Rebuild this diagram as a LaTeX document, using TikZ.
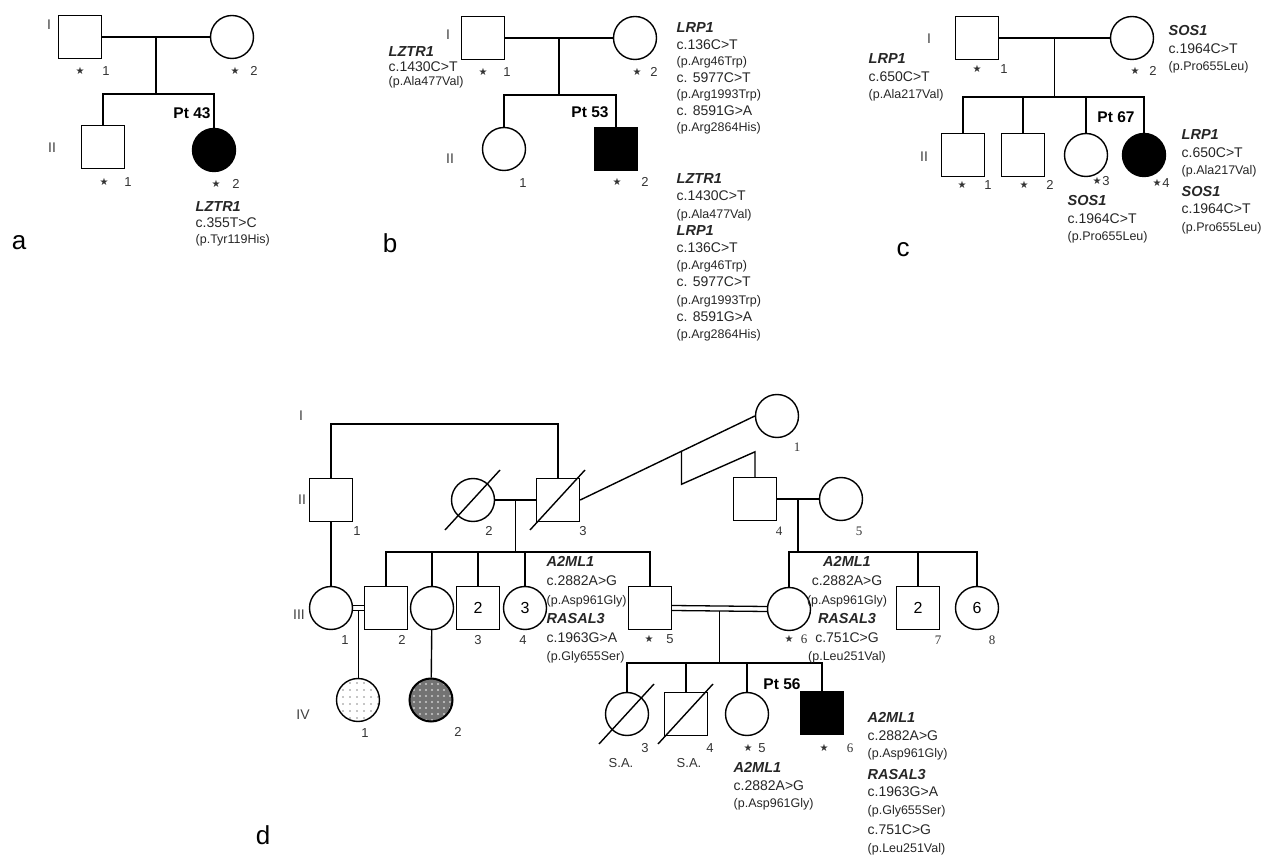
\documentclass[tikz,border=0pt]{standalone}
\usepackage{fontspec}
\setmainfont{Liberation Sans}
\newfontfamily\numserif{Liberation Serif}
\newfontfamily\symfont{DejaVu Sans}
\usetikzlibrary{positioning,calc,patterns.meta}

\newcommand{\gn}[1]{{\fontsize{14.5}{\baselineskip}\selectfont\textbf{\textit{#1}}}}
\newcommand{\pv}[1]{{\fontsize{12.5}{\baselineskip}\selectfont #1}}
\newcommand{\st}{{\symfont\fontsize{10}{10}\selectfont ★}}
% star + individual number under a symbol
\newcommand{\tagid}[5]{%
  \node[idno] (#1s) at (#2,#4) {\st};
  \node[idno] (#1n) at (#3,#4) {#5};}
% deceased / aborted slash
\newcommand{\deadmark}[1]{%
  \draw ([shift={(-28pt,-30pt)}]#1.center) -- ([shift={(27pt,30pt)}]#1.center);}
% consanguineous union
\newcommand{\consang}[2]{%
  \draw ([yshift=2.5pt]#1.east) -- ([yshift=2.5pt]#2.west);
  \draw ([yshift=-2.5pt]#1.east) -- ([yshift=-2.5pt]#2.west);}

\tikzset{
  male/.style={draw,rectangle,minimum size=43pt,inner sep=0pt,font=\fontsize{16}{18}\selectfont},
  female/.style={draw,circle,minimum size=43pt,inner sep=0pt,font=\fontsize{16}{18}\selectfont},
  affected/.style={fill=black},
  gen/.style={font=\fontsize{14}{16}\selectfont,text=black!75,inner sep=0pt},
  idno/.style={font=\fontsize{13}{15}\selectfont,text=black!80,inner sep=0pt},
  sidno/.style={idno,font=\numserif\fontsize{13}{15}\selectfont},
  ptlabel/.style={font=\bfseries\fontsize{15.5}{17}\selectfont,inner sep=0pt},
  varblk/.style={anchor=north west,align=left,inner sep=0pt,
    font=\fontsize{14}{17.5}\selectfont,text=black!85},
  panel/.style={font=\fontsize{26}{28}\selectfont,inner sep=0pt}
}

\begin{document}
\begin{tikzpicture}[x=1pt,y=-1pt,line width=1.4pt]
  \useasboundingbox (0,0) rectangle (1270,858);

  % ---------- a ----------
  \node[panel] (pa) at (19,243) {a};
  \node[gen] (gaI) at (49,25) {I};
  \node[gen] (gaII) at (52,148) {II};
  \node[male] (a11) at (80,37) {};
  \node[female] (a12) at (232,37) {};
  \node[male] (a21) at (103,147) {};
  \node[female,affected] (a22) at (214,150) {};
  \draw (a11) -- (a12);
  \coordinate (a1m) at ($(a11)!0.5!(a12)$);
  \coordinate (a1s) at ($(a1m)+(0,57)$);
  \draw (a1m) -- (a1s);
  \draw (a21.north) |- (a1s) -| (a22.north);
  \tagid{a11}{80}{106}{71}{1}
  \tagid{a12}{235}{254}{71}{2}
  \tagid{a21}{104}{128}{182}{1}
  \tagid{a22}{216}{236}{184}{2}
  \node[ptlabel] (pt43) at (192,113) {Pt 43};
  \node[varblk,font=\fontsize{14}{16}\selectfont] (avar) at (195,201)
    {\gn{LZTR1}\\c.355T>C\\\pv{(p.Tyr119His)}};

  % ---------- b ----------
  \node[panel] (pb) at (390,243) {b};
  \node[gen] (gbI) at (448,35) {I};
  \node[gen] (gbII) at (450,159) {II};
  \node[male] (b11) at (483,38) {};
  \node[female] (b12) at (635,38) {};
  \node[female] (b21) at (504,149) {};
  \node[male,affected] (b22) at (616,149) {};
  \draw (b11) -- (b12);
  \coordinate (b1m) at ($(b11)!0.5!(b12)$);
  \coordinate (b1s) at ($(b1m)+(0,57)$);
  \draw (b1m) -- (b1s);
  \draw (b21.north) |- (b1s) -| (b22.north);
  \tagid{b11}{483}{507}{72}{1}
  \tagid{b12}{637}{654}{72}{2}
  \node[idno] (b21n) at (523,183) {1};
  \tagid{b22}{617}{645}{182}{2}
  \node[ptlabel] (pt53) at (590,112) {Pt 53};
  \node[varblk,font=\fontsize{14}{14.5}\selectfont] (bvar1) at (388,46)
    {\gn{LZTR1}\\c.1430C>T\\\pv{(p.Ala477Val)}};
  \node[varblk,font=\fontsize{14}{16.5}\selectfont] (bvar2) at (676,22)
    {\gn{LRP1}\\c.136C>T\\\pv{(p.Arg46Trp)}\\c. 5977C>T\\\pv{(p.Arg1993Trp)}\\c. 8591G>A\\\pv{(p.Arg2864His)}};
  \node[varblk,font=\fontsize{14}{17.2}\selectfont] (bvar3) at (676,173)
    {\gn{LZTR1}\\c.1430C>T\\\pv{(p.Ala477Val)}\\\gn{LRP1}\\c.136C>T\\\pv{(p.Arg46Trp)}\\c. 5977C>T\\\pv{(p.Arg1993Trp)}\\c. 8591G>A\\\pv{(p.Arg2864His)}};

  % ---------- c ----------
  \node[panel] (pc) at (903,250) {c};
  \node[gen] (gcI) at (929,39) {I};
  \node[gen] (gcII) at (924,157) {II};
  \node[male] (c11) at (977,38) {};
  \node[female] (c12) at (1132,38) {};
  \node[male] (c21) at (963,155) {};
  \node[male] (c22) at (1023,155) {};
  \node[female] (c23) at (1086,155) {};
  \node[female,affected] (c24) at (1144,155) {};
  \draw (c11) -- (c12);
  \coordinate (c1m) at ($(c11)!0.5!(c12)$);
  \coordinate (c1s) at ($(c1m)+(0,59)$);
  \draw (c1m) -- (c1s);
  \draw (c21.north) |- (c1s) -| (c24.north);
  \foreach \k in {c22,c23} \draw (\k.north) -- (\k.north |- c1s);
  \tagid{c11}{977}{1004}{69}{1}
  \tagid{c12}{1135}{1153}{71}{2}
  \tagid{c21}{962}{988}{185}{1}
  \tagid{c22}{1024}{1050}{185}{2}
  \tagid{c23}{1097}{1106}{181}{3}
  \tagid{c24}{1157}{1166}{183}{4}
  \node[ptlabel] (pt67) at (1116,117) {Pt 67};
  \node[varblk] (cvar1) at (868,53) {\gn{LRP1}\\c.650C>T\\\pv{(p.Ala217Val)}};
  \node[varblk] (cvar2) at (1168,25) {\gn{SOS1}\\c.1964C>T\\\pv{(p.Pro655Leu)}};
  \node[varblk] (cvar3) at (1067,195) {\gn{SOS1}\\c.1964C>T\\\pv{(p.Pro655Leu)}};
  \node[varblk] (cvar4) at (1181,129)
    {\gn{LRP1}\\c.650C>T\\\pv{(p.Ala217Val)}\\[4pt]\gn{SOS1}\\c.1964C>T\\\pv{(p.Pro655Leu)}};

  % ---------- d ----------
  \node[panel] (pd) at (263,835) {d};
  \node[gen] (gdI) at (301,416) {I};
  \node[gen] (gdII) at (302,500) {II};
  \node[gen] (gdIII) at (299,615) {III};
  \node[gen] (gdIV) at (303,715) {IV};
  % generation I-II
  \node[female] (d11) at (777,416) {};
  \node[male] (d21) at (331,500) {};
  \node[female] (d22) at (473,500) {};
  \node[male] (d23) at (558,500) {};
  \node[male] (d24) at (755,499) {};
  \node[female] (d25) at (841,499) {};
  \deadmark{d22}
  \deadmark{d23}
  \coordinate (dtop) at (445,424);
  \draw (d21.north) |- (dtop) -| (d23.north);
  \draw (d23.east) -- (d11.west);
  \coordinate (dz1) at ($(d23.east)!0.58!(d11.west)$);
  \draw (dz1) -- ++(0,33) -- ([yshift=25pt]d24.north) -- (d24.north);
  \draw (d22) -- (d23);
  \draw (d24) -- (d25);
  % generation III
  \node[female] (d31) at (331,608) {};
  \node[male] (d32) at (386,608) {};
  \node[female] (d33) at (432,608) {};
  \node[male] (d34) at (478,608) {2};
  \node[female] (d35) at (525,608) {3};
  \node[male] (d36) at (650,608) {};
  \node[female] (d37) at (789,609) {};
  \node[male] (d38) at (918,608) {2};
  \node[female] (d39) at (977,608) {6};
  \draw (d21) -- (d31);
  \coordinate (d2m) at ($(d22)!0.5!(d23)$);
  \coordinate (d2s) at ($(d2m)+(0,52)$);
  \draw (d2m) -- (d2s);
  \draw (d32.north) |- (d2s) -| (d36.north);
  \foreach \k in {d33,d34,d35} \draw (\k.north) -- (\k.north |- d2s);
  \coordinate (d4m) at ($(d24)!0.5!(d25)$);
  \coordinate (d4s) at ($(d4m)+(0,53)$);
  \draw (d4m) -- (d4s);
  \draw (d37.north) |- (d4s) -| (d39.north);
  \draw (d38.north) -- (d38.north |- d4s);
  \begin{scope}[line width=1.3pt]
    \consang{d31}{d32}
    \consang{d36}{d37}
  \end{scope}
  % generation IV
  \node[female,pattern={Dots[distance=7pt,radius=0.8pt]},pattern color=black!45] (d41) at (358,700) {};
  \node[female,line width=2pt,preaction={fill=black!55},
    pattern={Dots[distance=6pt,radius=1.1pt]},pattern color=black!20] (d42) at (431,700) {};
  \node[female] (d43) at (627,714) {};
  \node[male] (d44) at (686,714) {};
  \node[female] (d45) at (747,714) {};
  \node[male,affected] (d46) at (822,713) {};
  \deadmark{d43}
  \deadmark{d44}
  \coordinate (d3m) at ($(d31.east)!0.5!(d32.west)+(0,2.5)$);
  \draw (d3m) -- (d3m |- d41.north);
  \draw (d33) -- (d42);
  \coordinate (d6m) at ($(d36.east)!0.5!(d37.west)+(0,2.5)$);
  \coordinate (d6s) at ($(d6m)+(0,52)$);
  \draw (d6m) -- (d6s);
  \draw (d43.north) |- (d6s) -| (d46.north);
  \foreach \k in {d44,d45} \draw (\k.north) -- (\k.north |- d6s);
  % numbers
  \node[sidno] (d11n) at (797,447) {1};
  \node[idno] (d21n) at (357,531) {1};
  \node[idno] (d22n) at (489,531) {2};
  \node[idno] (d23n) at (583,531) {3};
  \node[sidno] (d24n) at (779,531) {4};
  \node[sidno] (d25n) at (859,531) {5};
  \node[idno] (d31n) at (345,640) {1};
  \node[idno] (d32n) at (402,640) {2};
  \node[idno] (d34n) at (478,640) {3};
  \node[idno] (d35n) at (523,640) {4};
  \tagid{d36}{649}{670}{639}{5}
  \node[idno] (d37s) at (789,639) {\st};
  \node[sidno] (d37n) at (804,639) {6};
  \node[sidno] (d38n) at (938,640) {7};
  \node[sidno] (d39n) at (992,640) {8};
  \node[idno] (d41n) at (365,733) {1};
  \node[idno] (d42n) at (458,732) {2};
  \node[idno] (d43n) at (645,748) {3};
  \node[idno] (d44n) at (710,748) {4};
  \node[idno] (d43a) at (621,763) {S.A.};
  \node[idno] (d44a) at (689,763) {S.A.};
  \tagid{d45}{748}{762}{748}{5}
  \node[idno] (d46s) at (824,748) {\st};
  \node[sidno] (d46n) at (850,748) {6};
  \node[ptlabel] (pt56) at (782,684) {Pt 56};
  % variants
  \node[varblk,font=\fontsize{14}{18.8}\selectfont] (dvar1) at (546,556)
    {\gn{A2ML1}\\c.2882A>G\\\pv{(p.Asp961Gly)}\\\gn{RASAL3}\\c.1963G>A\\\pv{(p.Gly655Ser)}};
  \node[varblk,anchor=north,align=center,font=\fontsize{14}{18.8}\selectfont] (dvar2) at (847,556)
    {\gn{A2ML1}\\c.2882A>G\\\pv{(p.Asp961Gly)}\\\gn{RASAL3}\\c.751C>G\\\pv{(p.Leu251Val)}};
  \node[varblk] (dvar3) at (733,762) {\gn{A2ML1}\\c.2882A>G\\\pv{(p.Asp961Gly)}};
  \node[varblk] (dvar4) at (867,712)
    {\gn{A2ML1}\\c.2882A>G\\\pv{(p.Asp961Gly)}\\[4pt]\gn{RASAL3}\\c.1963G>A\\\pv{(p.Gly655Ser)}\\[3pt]c.751C>G\\\pv{(p.Leu251Val)}};
\end{tikzpicture}
\end{document}
